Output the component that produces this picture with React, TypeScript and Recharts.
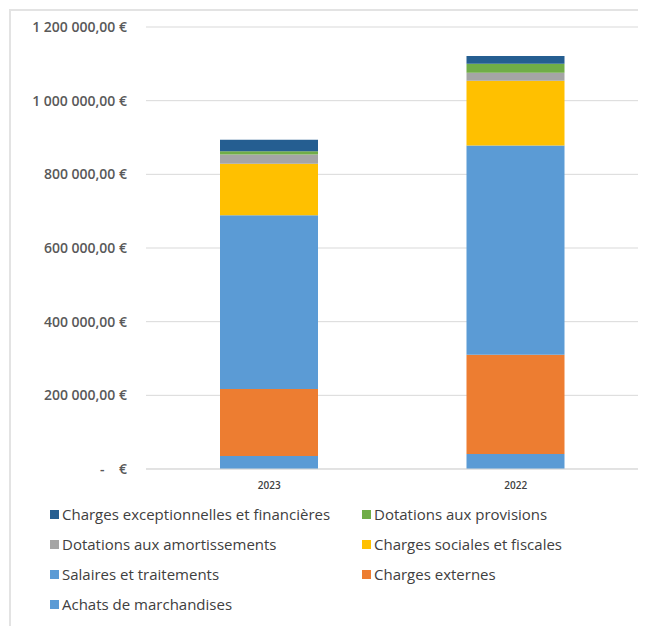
import React from 'react';
import { BarChart, Bar, XAxis, YAxis, CartesianGrid } from 'recharts';

// years as shown left to right
const years = ['2023', '2022'];

// stacked bottom -> top
const achats = [35000, 41000];
const externes = [182000, 269000];
const salaires = [472000, 568000];
const sociales = [140000, 176000];
const amortissements = [25000, 22000];
const provisions = [9000, 24000];
const exceptionnelles = [31000, 21000];

const yTicks = [0, 200000, 400000, 600000, 800000, 1000000, 1200000];

const series = [
  { key: 'achats', name: 'Achats de marchandises', values: achats, color: '#5b9bd5' },
  { key: 'externes', name: 'Charges externes', values: externes, color: '#ed7d31' },
  { key: 'salaires', name: 'Salaires et traitements', values: salaires, color: '#5b9bd5' },
  { key: 'sociales', name: 'Charges sociales et fiscales', values: sociales, color: '#ffc000' },
  { key: 'amortissements', name: 'Dotations aux amortissements', values: amortissements, color: '#a5a5a5' },
  { key: 'provisions', name: 'Dotations aux provisions', values: provisions, color: '#70ad47' },
  { key: 'exceptionnelles', name: 'Charges exceptionnelles et financières', values: exceptionnelles, color: '#255e91' },
];

const data = years.map((year, i) => {
  const row: Record<string, string | number> = { year };
  series.forEach((s) => {
    row[s.key] = s.values[i];
  });
  return row;
});

function formatEuro(v: number) {
  if (v === 0) return '-\u00a0\u00a0\u00a0\u00a0€';
  const s = Math.round(v).toString().replace(/\B(?=(\d{3})+(?!\d))/g, '\u00a0');
  return `${s},00\u00a0€`;
}

const font = '"Open Sans", sans-serif';

function LegendBox() {
  const items = [...series].reverse();
  return (
    <div
      style={{
        display: 'grid',
        gridTemplateColumns: '312px 260px',
        paddingLeft: 39,
        fontFamily: font,
        fontSize: 15,
        color: '#404040',
      }}
    >
      {items.map((s) => (
        <div key={s.key} style={{ display: 'flex', alignItems: 'center', height: 30, whiteSpace: 'nowrap' }}>
          <span style={{ width: 9, height: 9, background: s.color, marginRight: 3, display: 'inline-block' }} />
          <span>{s.name}</span>
        </div>
      ))}
    </div>
  );
}

export default function App() {
  return (
    <div
      style={{
        marginTop: 1,
        marginLeft: 1,
        width: 660,
        height: 620,
        borderTop: '2px solid #e3e3e3',
        borderLeft: '2px solid #e3e3e3',
        background: '#fff',
      }}
    >
      <BarChart
        width={632}
        height={488}
        data={data}
        margin={{ top: 16, right: 4, bottom: 0, left: 0 }}
        barSize={98}
      >
        <CartesianGrid vertical={false} stroke="#d9d9d9" />
        <XAxis
          dataKey="year"
          height={30}
          axisLine={{ stroke: '#d9d9d9' }}
          tickLine={false}
          tickSize={0}
          tickMargin={13}
          tick={{ fontSize: 10, fill: '#404040', fontFamily: font, fontWeight: 600 }}
        />
        <YAxis
          width={135}
          domain={[0, 1200000]}
          ticks={yTicks}
          axisLine={false}
          tickLine={false}
          tickSize={0}
          tickMargin={19}
          tickFormatter={formatEuro}
          tick={{ fontSize: 14, fill: '#595959', fontFamily: font, fontWeight: 600 }}
        />
        {series.map((s) => (
          <Bar
            key={s.key}
            dataKey={s.key}
            name={s.name}
            stackId="a"
            fill={s.color}
            isAnimationActive={false}
          />
        ))}
      </BarChart>
      <LegendBox />
    </div>
  );
}
